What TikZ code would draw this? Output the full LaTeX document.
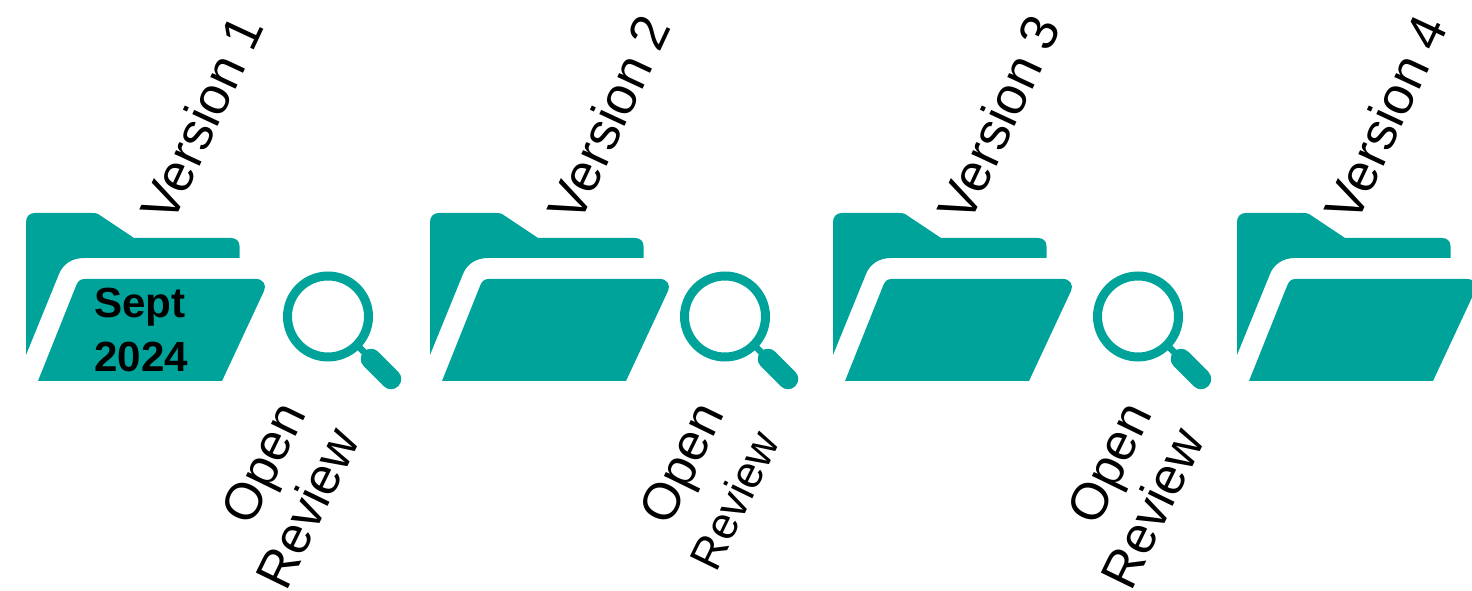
\documentclass[tikz,border=0pt]{standalone}
\usepackage{fontspec}
\setmainfont{Liberation Sans}
\usepackage{tikz}
\definecolor{folderteal}{HTML}{00A39A}
\tikzset{
  versionlabel/.style={rotate=65,anchor=center,inner sep=0pt,font=\fontsize{30}{36}\selectfont},
  reviewlabel/.style={rotate=64,anchor=center,inner sep=0pt,font=\fontsize{29.5}{36}\selectfont},
  smalllabel/.style={rotate=64,anchor=center,inner sep=0pt,font=\fontsize{25.5}{30}\selectfont},
  datelabel/.style={anchor=west,inner sep=0pt,font=\fontsize{24}{29}\selectfont\bfseries}
}
\begin{document}
\begin{tikzpicture}[x=0.02cm,y=-0.02cm]
  \useasboundingbox (0,0) rectangle (1472,591);
  % folders: back flap and front panel
  \foreach \fx in {0,404,807,1211} {
    \begin{scope}[xshift=\fx*0.02cm]
      \fill[folderteal]
        (26,355) -- (26,222) .. controls (26,216) and (30,213) .. (35,213)
        -- (92,213) .. controls (94,213) and (96,213) .. (98,214)
        -- (134,238) -- (231,238) .. controls (236,238) and (239.5,241) .. (239.5,246)
        -- (239.5,258) -- (84,258) .. controls (72,258) and (63,264) .. (59,274) -- cycle;
      \fill[folderteal]
        (38,381) -- (76,286) .. controls (78,281) and (80,279) .. (85,279)
        -- (256,279) .. controls (263,279) and (267,285) .. (264,291)
        -- (222,381) -- cycle;
    \end{scope}
  }
  % magnifying glasses
  \foreach \mx in {328,725,1138} {
    \begin{scope}[xshift=\mx*0.02cm]
      \draw[folderteal,line width=0.18cm] (0,316.5) circle (40.5);
      \draw[folderteal,line width=0.13cm] (28,344) -- (44,360);
      \draw[folderteal,line width=0.41cm,line cap=round] (43,359) -- (63,379);
    \end{scope}
  }
  % version labels
  \node[versionlabel] (version1) at (201.5,118) {Version 1};
  \node[versionlabel] (version2) at (608.5,118) {Version 2};
  \node[versionlabel] (version3) at (998.5,118) {Version 3};
  \node[versionlabel] (version4) at (1385.5,118) {Version 4};
  % review labels, the middle one is smaller
  \node[reviewlabel] (open1) at (268,465) {Open};
  \node[reviewlabel] (review1) at (307,508) {Review};
  \node[reviewlabel] (open2) at (686,465) {Open};
  \node[smalllabel] (review2) at (734,500) {Review};
  \node[reviewlabel] (open3) at (1114,465) {Open};
  \node[reviewlabel] (review3) at (1152,508) {Review};
  % date on the first folder
  \node[datelabel] (sept) at (94,307) {Sept};
  \node[datelabel] (year) at (94,357) {2024};
\end{tikzpicture}
\end{document}
